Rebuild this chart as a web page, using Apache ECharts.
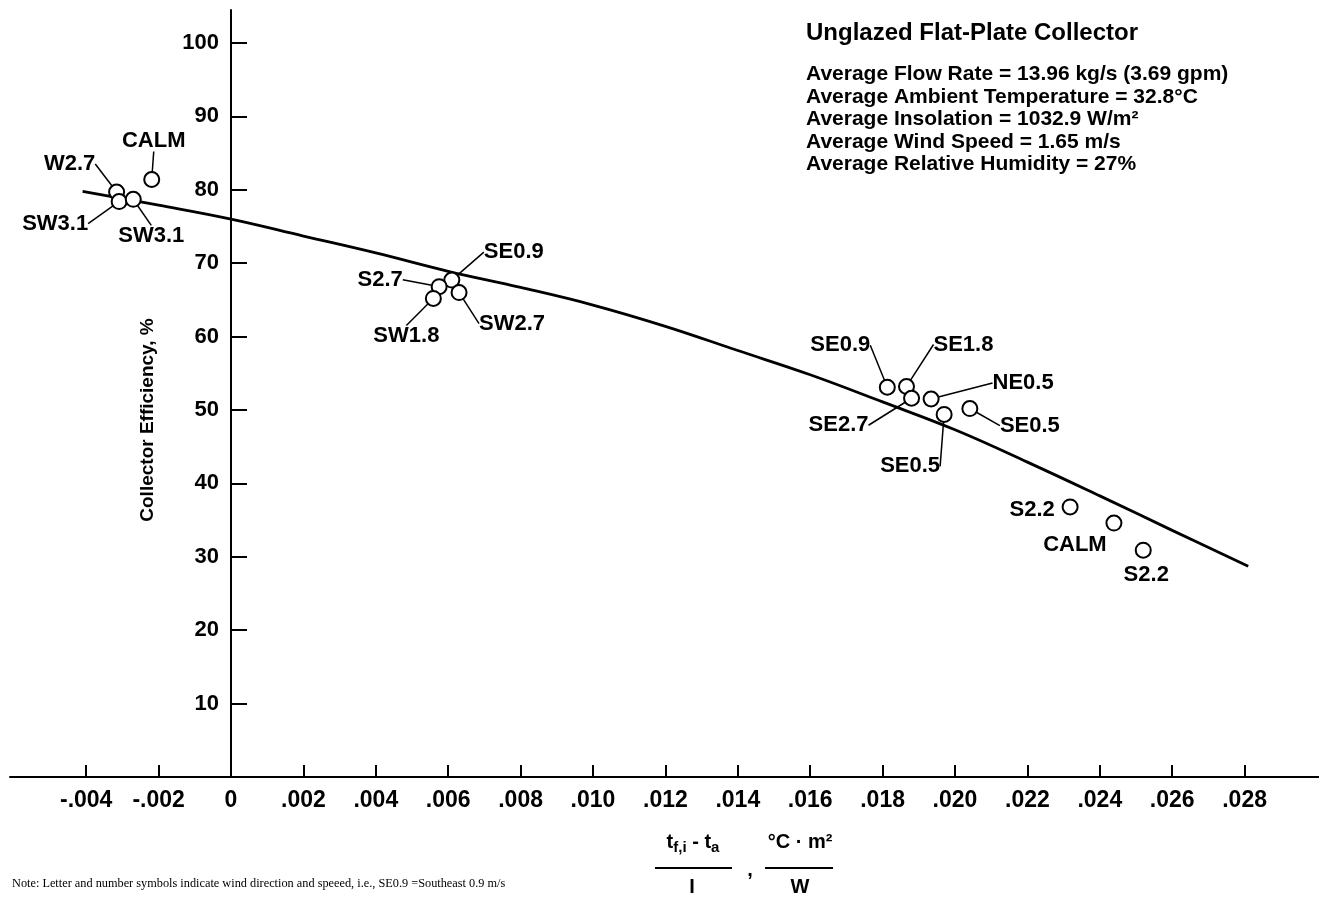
<!DOCTYPE html>
<html>
<head>
<meta charset="utf-8">
<script src="https://cdn.jsdelivr.net/npm/echarts@6/dist/echarts.min.js"></script>
<style>
html,body{margin:0;padding:0;background:#fff;}
#chart{width:1319px;height:898px;}
</style>
</head>
<body>
<div id="chart"></div>
<script>
// axis ticks
const xTicks = [-0.004, -0.002, 0, 0.002, 0.004, 0.006, 0.008, 0.010, 0.012, 0.014, 0.016, 0.018, 0.020, 0.022, 0.024, 0.026, 0.028];
const yTicks = [10, 20, 30, 40, 50, 60, 70, 80, 90, 100];

// measured points (wind direction + speed)
const pointNames = ['W2.7', 'SW3.1', 'SW3.1', 'CALM', 'SE0.9', 'S2.7', 'SW1.8', 'SW2.7',
  'SE0.9', 'SE1.8', 'SE2.7', 'NE0.5', 'SE0.5', 'SE0.5', 'S2.2', 'CALM', 'S2.2'];
const pointX = [-0.00316, -0.00309, -0.00270, -0.00219, 0.00610, 0.00575, 0.00559, 0.00630,
  0.01813, 0.01866, 0.01880, 0.01934, 0.01970, 0.02041, 0.02318, 0.02439, 0.02520];
const pointY = [79.7, 78.4, 78.7, 81.4, 67.7, 66.8, 65.2, 66.0,
  53.1, 53.2, 51.6, 51.5, 49.4, 50.2, 36.8, 34.6, 30.9];

// fitted efficiency curve
const curveX = [-0.0041, -0.002, 0, 0.002, 0.004, 0.006, 0.008, 0.010, 0.012, 0.014, 0.016, 0.018, 0.020, 0.022, 0.024, 0.026, 0.0281];
const curveY = [79.8, 77.9, 76.0, 73.7, 71.4, 68.9, 66.7, 64.3, 61.4, 58.1, 54.8, 51.1, 47.3, 42.9, 38.3, 33.6, 28.7];

const infoLines = [
  'Average Flow Rate = 13.96 kg/s (3.69 gpm)',
  'Average Ambient Temperature = 32.8°C',
  'Average Insolation = 1032.9 W/m²',
  'Average Wind Speed = 1.65 m/s',
  'Average Relative Humidity = 27%'
];

// label placement (px from the point), and whether a leader line is drawn
const labelDx = [-47, -64, 18, 2, 62, -59, -27, 53, -47, 57, -73, 92, -34, 60, -38, -39, 3];
const labelDy = [-28, 22, 37, -39, -28, -7, 38, 31, -42, -42, 27, -16, 52, 17, 3, 22, 25];
const leader = [1, 1, 1, 1, 1, 1, 1, 1, 1, 1, 1, 1, 1, 1, 0, 0, 0];

// plot geometry: x=0 sits at 231px, 36200px per unit; y=0 at 777px, 7.34px per %
const W = 1319, H = 898;
const gridLeft = 10, gridTop = 10, axisY = 777;
const pxPerX = 36200, pxPerY = 7.34, zeroX = 231;
const xMin = -(zeroX - gridLeft) / pxPerX;
const xMax = (W - zeroX) / pxPerX;
const yMax = (axisY - gridTop) / pxPerY;

const font = "'Liberation Sans', Arial, sans-serif";

function fmtX(v) {
  if (v === 0) return '0';
  return (v < 0 ? '-' : '') + Math.abs(v).toFixed(3).replace(/^0/, '');
}

const curveData = curveX.map((x, i) => [x, curveY[i]]);
const pointData = pointX.map((x, i) => ({
  value: [x, pointY[i]],
  name: pointNames[i],
  labelLine: { show: !!leader[i] }
}));

const chart = echarts.init(document.getElementById('chart'), null, { renderer: 'canvas' });
chart.setOption({
  backgroundColor: '#fff',
  animation: false,
  grid: {
    left: gridLeft, right: 0, top: gridTop, bottom: H - axisY,
    containLabel: false, outerBoundsMode: 'none'
  },
  xAxis: {
    type: 'value',
    min: xMin,
    max: xMax,
    axisLine: { onZero: false, lineStyle: { color: '#000', width: 2 } },
    axisTick: { show: true, inside: true, length: 12, customValues: xTicks, lineStyle: { color: '#000', width: 2 } },
    axisLabel: {
      customValues: xTicks,
      formatter: fmtX,
      margin: 12,
      color: '#000',
      fontSize: 23,
      fontWeight: 'bold',
      fontFamily: font
    },
    splitLine: { show: false }
  },
  yAxis: {
    type: 'value',
    min: 0,
    max: yMax,
    offset: -(zeroX - gridLeft),
    axisLine: { onZero: false, lineStyle: { color: '#000', width: 2 } },
    axisTick: { show: true, inside: true, length: 16, customValues: yTicks, lineStyle: { color: '#000', width: 2 } },
    axisLabel: {
      customValues: yTicks,
      margin: 12,
      color: '#000',
      fontSize: 22,
      fontWeight: 'bold',
      fontFamily: font
    },
    splitLine: { show: false }
  },
  series: [
    {
      type: 'line',
      data: curveData,
      smooth: 0.4,
      showSymbol: false,
      lineStyle: { color: '#000', width: 2.8 },
      z: 2
    },
    {
      type: 'scatter',
      data: pointData,
      symbol: 'circle',
      symbolSize: 15,
      itemStyle: { color: '#fff', borderColor: '#000', borderWidth: 2, opacity: 1 },
      label: {
        show: true,
        position: 'inside',
        formatter: '{b}',
        color: '#000',
        fontSize: 22,
        fontWeight: 'bold',
        fontFamily: font
      },
      labelLayout: function (p) {
        return { dx: labelDx[p.dataIndex], dy: labelDy[p.dataIndex] };
      },
      labelLine: { show: true, lineStyle: { color: '#000', width: 1.5 } },
      z: 3
    }
  ],
  graphic: [
    {
      type: 'text', left: 806, top: 21,
      style: { text: 'Unglazed Flat-Plate Collector', fill: '#000', font: "bold 24px " + font }
    },
    {
      type: 'text', left: 806, top: 63,
      style: { text: infoLines.join('\n'), fill: '#000', font: "bold 21px " + font, lineHeight: 22.5 }
    },
    {
      type: 'text', x: 148, y: 420, rotation: Math.PI / 2,
      style: {
        text: 'Collector Efficiency, %', fill: '#000', font: "bold 19px " + font,
        align: 'center', verticalAlign: 'middle'
      }
    },
    {
      type: 'text', x: 693, y: 842,
      style: {
        text: '{m|t}{s|f,i}{m| - t}{s|a}',
        align: 'center', verticalAlign: 'middle',
        rich: {
          m: { fontSize: 20, fontWeight: 'bold', fontFamily: font, color: '#000' },
          s: { fontSize: 15, fontWeight: 'bold', fontFamily: font, color: '#000', padding: [12, 0, 0, 0] }
        }
      }
    },
    { type: 'line', shape: { x1: 655, y1: 868, x2: 732, y2: 868 }, style: { stroke: '#000', lineWidth: 2 } },
    {
      type: 'text', x: 692, y: 887,
      style: { text: 'I', fill: '#000', font: "bold 20px " + font, align: 'center', verticalAlign: 'middle' }
    },
    {
      type: 'text', x: 750, y: 870,
      style: { text: ',', fill: '#000', font: "bold 20px " + font, align: 'center', verticalAlign: 'middle' }
    },
    {
      type: 'text', x: 800, y: 842,
      style: { text: '°C · m²', fill: '#000', font: "bold 20px " + font, align: 'center', verticalAlign: 'middle' }
    },
    { type: 'line', shape: { x1: 765, y1: 868, x2: 833, y2: 868 }, style: { stroke: '#000', lineWidth: 2 } },
    {
      type: 'text', x: 800, y: 887,
      style: { text: 'W', fill: '#000', font: "bold 20px " + font, align: 'center', verticalAlign: 'middle' }
    },
    {
      type: 'text', x: 12, y: 884,
      style: {
        text: 'Note: Letter and number symbols indicate wind direction and speeed, i.e., SE0.9 =Southeast 0.9 m/s',
        fill: '#000', font: "12.3px 'Liberation Serif', 'Times New Roman', serif", verticalAlign: 'middle'
      }
    }
  ]
});
</script>
</body>
</html>
